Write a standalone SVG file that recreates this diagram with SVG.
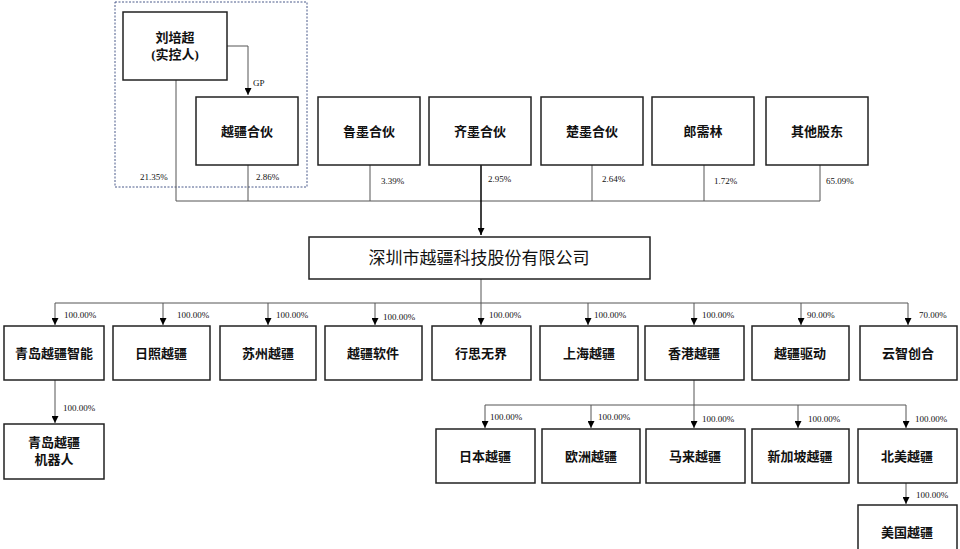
<svg xmlns="http://www.w3.org/2000/svg" width="960" height="549" viewBox="0 0 960 549">
<defs><marker id="a" viewBox="0 0 10 10" refX="10" refY="5" markerWidth="7" markerHeight="7" orient="auto" markerUnits="userSpaceOnUse"><path d="M0,0L10,5L0,10z" fill="#000"/></marker>
<style>
rect.n{fill:#fff;stroke:#222;stroke-width:1.5}
text{font-family:"Liberation Serif","Noto Sans CJK SC",serif;fill:#111}
.t{font-size:13px;text-anchor:middle;font-weight:bold}
.p{font-size:9px}
.c line,.c path{stroke:#555;stroke-width:1;fill:none}
.ar{marker-end:url(#a)}
</style></defs>
<rect x="115" y="2" width="192" height="185" fill="none" stroke="#4a5a8a" stroke-dasharray="2,1.5"/>
<g class="c">
<path d="M227,46H248V95" class="ar"/>
<path d="M176,80V201H820V165M248,165V201M370,165V201M592,165V201M704,165V201"/>
<line x1="481" y1="165" x2="481" y2="235" class="ar" style="stroke:#000;stroke-width:1.5"/>
<path d="M481,279V303M55,303H908"/>
<line x1="55" y1="303" x2="55" y2="325" class="ar"/><line x1="163" y1="303" x2="163" y2="325" class="ar"/><line x1="268" y1="303" x2="268" y2="325" class="ar"/><line x1="375" y1="303" x2="375" y2="325" class="ar"/><line x1="481" y1="303" x2="481" y2="325" class="ar"/><line x1="588" y1="303" x2="588" y2="325" class="ar"/><line x1="694" y1="303" x2="694" y2="325" class="ar"/><line x1="801" y1="303" x2="801" y2="325" class="ar"/><line x1="908" y1="303" x2="908" y2="325" class="ar"/>
<line x1="55" y1="380" x2="55" y2="423" class="ar"/>
<path d="M694,380V405M485,405H906"/>
<line x1="485" y1="405" x2="485" y2="428" class="ar"/><line x1="591" y1="405" x2="591" y2="428" class="ar"/><line x1="694" y1="405" x2="694" y2="428" class="ar"/><line x1="798" y1="405" x2="798" y2="428" class="ar"/><line x1="906" y1="405" x2="906" y2="428" class="ar"/>
<line x1="906" y1="483" x2="906" y2="504" class="ar"/>
</g>
<g class="p"><text x="253" y="86">GP</text><text x="140" y="180">21.35%</text><text x="256" y="180">2.86%</text><text x="381" y="184">3.39%</text><text x="488" y="182">2.95%</text><text x="602" y="182">2.64%</text><text x="714" y="184">1.72%</text><text x="826" y="184">65.09%</text>
<text x="64" y="318">100.00%</text><text x="177" y="318">100.00%</text><text x="276" y="318">100.00%</text><text x="383" y="320">100.00%</text><text x="489" y="318">100.00%</text><text x="594" y="318">100.00%</text><text x="702" y="318">100.00%</text><text x="807" y="318">90.00%</text><text x="919" y="318">70.00%</text>
<text x="63" y="411">100.00%</text><text x="490" y="420">100.00%</text><text x="598" y="420">100.00%</text><text x="702" y="422">100.00%</text><text x="808" y="422">100.00%</text><text x="915" y="422">100.00%</text><text x="916" y="498">100.00%</text></g>
<g id="n1"><rect class="n" x="123" y="12" width="104" height="68"/><text class="t" x="175" y="42">刘培超</text><text class="t" x="175" y="59">(实控人)</text></g>
<g id="n2"><rect class="n" x="196" y="97" width="102" height="68"/><text class="t" x="247" y="136">越疆合伙</text></g>
<g id="n3"><rect class="n" x="318" y="97" width="102" height="68"/><text class="t" x="369" y="136">鲁墨合伙</text></g>
<g id="n4"><rect class="n" x="429" y="97" width="102" height="68"/><text class="t" x="480" y="136">齐墨合伙</text></g>
<g id="n5"><rect class="n" x="541" y="97" width="102" height="68"/><text class="t" x="592" y="136">楚墨合伙</text></g>
<g id="n6"><rect class="n" x="652" y="97" width="102" height="68"/><text class="t" x="703" y="136">郎需林</text></g>
<g id="n7"><rect class="n" x="766" y="97" width="102" height="68"/><text class="t" x="817" y="136">其他股东</text></g>
<g id="m"><rect class="n" x="309" y="237" width="341" height="42"/><text class="t" x="479" y="264" style="font-size:17px;font-weight:normal">深圳市越疆科技股份有限公司</text></g>
<g id="s1"><rect class="n" x="4" y="326" width="100" height="54"/><text class="t" x="54" y="358">青岛越疆智能</text></g>
<g id="s2"><rect class="n" x="113" y="326" width="97" height="54"/><text class="t" x="161" y="358">日照越疆</text></g>
<g id="s3"><rect class="n" x="220" y="326" width="96" height="54"/><text class="t" x="268" y="358">苏州越疆</text></g>
<g id="s4"><rect class="n" x="325" y="326" width="97" height="54"/><text class="t" x="373" y="358">越疆软件</text></g>
<g id="s5"><rect class="n" x="432" y="326" width="99" height="54"/><text class="t" x="481" y="358">行思无界</text></g>
<g id="s6"><rect class="n" x="540" y="326" width="98" height="54"/><text class="t" x="589" y="358">上海越疆</text></g>
<g id="s7"><rect class="n" x="645" y="326" width="99" height="54"/><text class="t" x="694" y="358">香港越疆</text></g>
<g id="s8"><rect class="n" x="752" y="326" width="97" height="54"/><text class="t" x="800" y="358">越疆驱动</text></g>
<g id="s9"><rect class="n" x="860" y="326" width="97" height="54"/><text class="t" x="908" y="358">云智创合</text></g>
<g id="r1"><rect class="n" x="4" y="424" width="100" height="55"/><text class="t" x="54" y="447">青岛越疆</text><text class="t" x="54" y="464">机器人</text></g>
<g id="h1"><rect class="n" x="436" y="429" width="99" height="54"/><text class="t" x="485" y="461">日本越疆</text></g>
<g id="h2"><rect class="n" x="542" y="429" width="98" height="54"/><text class="t" x="591" y="461">欧洲越疆</text></g>
<g id="h3"><rect class="n" x="646" y="429" width="99" height="54"/><text class="t" x="695" y="461">马来越疆</text></g>
<g id="h4"><rect class="n" x="752" y="429" width="97" height="54"/><text class="t" x="800" y="461">新加坡越疆</text></g>
<g id="h5"><rect class="n" x="858" y="429" width="99" height="54"/><text class="t" x="907" y="461">北美越疆</text></g>
<g id="u1"><rect class="n" x="858" y="505" width="99" height="50"/><text class="t" x="907" y="537">美国越疆</text></g>
</svg>
